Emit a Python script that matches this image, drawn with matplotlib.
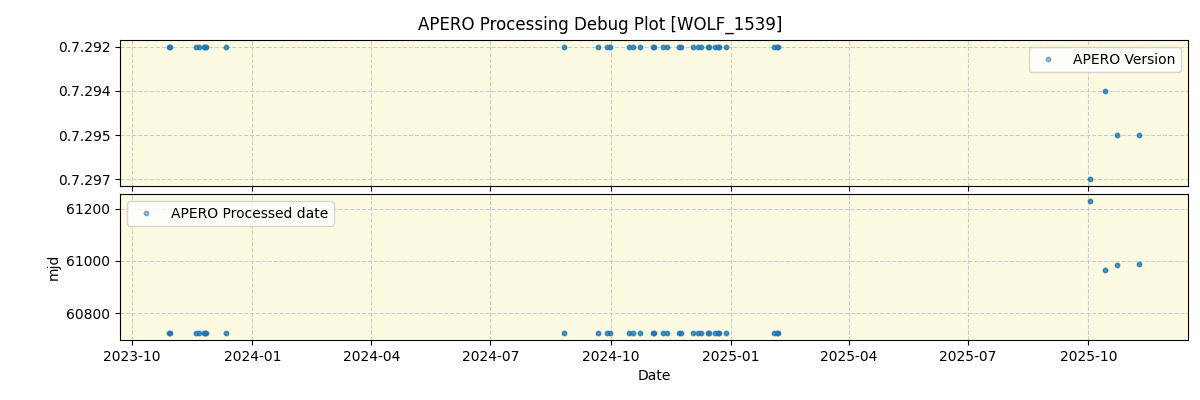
import numpy as np
import pandas as pd
import matplotlib
matplotlib.use("Agg")
import matplotlib.pyplot as plt
import matplotlib.dates as mdates
from matplotlib.ticker import MultipleLocator

obs_dates = ["2023-10-29", "2023-10-30", "2023-11-19", "2023-11-21", "2023-11-25",
             "2023-11-26", "2023-11-27", "2023-12-12",
             "2024-08-26", "2024-09-21", "2024-09-28", "2024-09-30", "2024-10-15",
             "2024-10-18", "2024-10-23", "2024-11-02", "2024-11-03", "2024-11-10",
             "2024-11-13", "2024-11-22", "2024-11-24", "2024-12-03", "2024-12-07",
             "2024-12-09", "2024-12-14", "2024-12-15", "2024-12-20", "2024-12-22",
             "2024-12-23", "2024-12-28", "2025-02-03", "2025-02-05", "2025-02-06",
             "2025-10-02", "2025-10-14", "2025-10-23", "2025-11-09"]
versions = ["0.7.292"] * 33 + ["0.7.297", "0.7.294", "0.7.295", "0.7.295"]
proc_mjd = [60724] * 33 + [61230, 60965, 60985, 60989]

dates = pd.to_datetime(obs_dates)
cat_order = ["0.7.292", "0.7.294", "0.7.295", "0.7.297"]
ver_idx = [cat_order.index(v) for v in versions]

bg = "#fcfbe1"
fig, (ax1, ax2) = plt.subplots(2, 1, figsize=(12, 4), dpi=100, sharex=True)
fig.subplots_adjust(left=0.1, right=0.99, top=0.9, bottom=0.15, hspace=0.055)
fig.suptitle("APERO Processing Debug Plot [WOLF_1539]", fontsize=12, y=0.96)

ax1.plot(dates, ver_idx, "o", ms=3.2, alpha=0.8, color="tab:blue", label="APERO Version")
ax1.set_yticks(range(len(cat_order)))
ax1.set_yticklabels(cat_order)
ax1.invert_yaxis()
leg1 = ax1.legend(loc="upper right")

ax2.plot(dates, proc_mjd, "o", ms=3.2, alpha=0.8, color="tab:blue", label="APERO Processed date")
ax2.yaxis.set_major_locator(MultipleLocator(200))
ax2.set_ylabel("mjd")
ax2.set_xlabel("Date")
leg2 = ax2.legend(loc="upper left")

for leg in (leg1, leg2):
    for h in leg.legend_handles:
        h.set_alpha(0.5)

for ax in (ax1, ax2):
    ax.set_facecolor(bg)
    ax.grid(True, linestyle="--", color="#c5c8d6", alpha=0.9)
    ax.set_axisbelow(True)

ax2.xaxis.set_major_locator(mdates.MonthLocator(bymonth=[1, 4, 7, 10]))
ax2.xaxis.set_major_formatter(mdates.DateFormatter("%Y-%m"))

fig.savefig("out.png")
